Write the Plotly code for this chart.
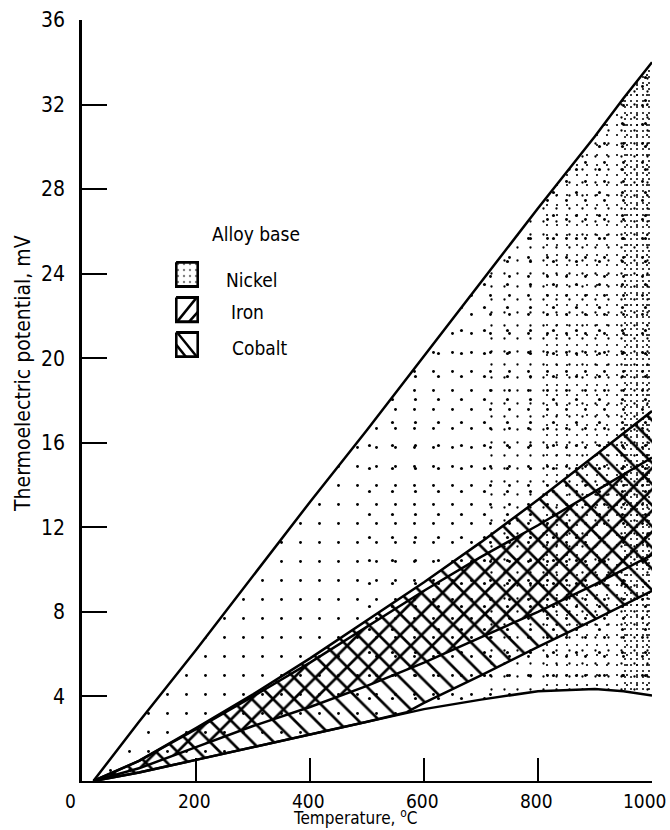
import plotly.graph_objects as go

# ---------------- data ----------------
temps = [20, 100, 200, 300, 400, 500, 600, 700, 800, 900, 950, 1000]
nickel_upper = [0, 2.8, 6.2, 9.7, 13.2, 16.6, 20.1, 23.6, 27.1, 30.5, 32.3, 34.0]
nickel_lower = [0, 0.4, 1.0, 1.6, 2.2, 2.8, 3.4, 3.85, 4.25, 4.35, 4.25, 4.05]

cobalt_t = [20, 100, 200, 300, 400, 500, 600, 700, 800, 900, 1000]
cobalt_upper = [0, 0.95, 2.5, 4.1, 5.8, 7.6, 9.4, 11.3, 13.3, 15.4, 17.5]
cobalt_lower_t = [20, 100, 200, 300, 400, 500, 570, 600, 700, 800, 900, 1000]
cobalt_lower = [0, 0.4, 1.0, 1.6, 2.2, 2.8, 3.26, 3.7, 5.0, 6.35, 7.65, 9.0]

iron_t = [20, 100, 200, 300, 400, 500, 600, 700, 800, 900, 1000]
iron_upper = [0, 0.95, 2.45, 4.0, 5.6, 7.3, 9.0, 10.6, 12.1, 13.7, 15.3]
iron_lower = [0, 0.6, 1.6, 2.6, 3.5, 4.5, 5.6, 6.8, 8.0, 9.3, 10.7]

x_ticks = [200, 400, 600, 800, 1000]
x_ticktext = ["200", "400", "600", "800", "1000"]
y_ticks = [4, 8, 12, 16, 20, 24, 28, 32, 36]
legend_names = ["Nickel", "Iron", "Cobalt"]

FONT = "DejaVu Sans Condensed, Liberation Sans Narrow, Arial Narrow, sans-serif"
CLEAR = "rgba(0,0,0,0)"

fig = go.Figure()


def band(xu, yu, xl, yl, shape, size, solidity, name):
    fig.add_trace(go.Scatter(
        x=list(xu) + list(xl)[::-1],
        y=list(yu) + list(yl)[::-1],
        mode="none", fill="toself", fillcolor=CLEAR,
        fillpattern=dict(shape=shape, size=size, solidity=solidity,
                         fgcolor="black", bgcolor=CLEAR, fgopacity=1),
        hoverinfo="skip", showlegend=False, name=name))


# nickel stipple: sparse at low temperature, growing denser toward 1000 C
band(temps, nickel_upper, temps, nickel_lower, ".", 19, 0.018, "Nickel")
band(temps[5:], nickel_upper[5:], temps[5:], nickel_lower[5:], ".", 23, 0.014, "Nickel")
band(temps[7:], nickel_upper[7:], temps[7:], nickel_lower[7:], ".", 13, 0.025, "Nickel")
band(temps[8:], nickel_upper[8:], temps[8:], nickel_lower[8:], ".", 10, 0.035, "Nickel")
band(temps[10:], nickel_upper[10:], temps[10:], nickel_lower[10:], ".", 6, 0.09, "Nickel")

band(cobalt_t, cobalt_upper, cobalt_lower_t, cobalt_lower, "\\", 15, 0.18, "Cobalt")
band(iron_t, iron_upper, iron_t, iron_lower, "/", 15, 0.18, "Iron")

for xs, ys in [(temps, nickel_upper), (temps, nickel_lower),
               (cobalt_t, cobalt_upper), (cobalt_lower_t, cobalt_lower),
               (iron_t, iron_upper), (iron_t, iron_lower)]:
    fig.add_trace(go.Scatter(x=xs, y=ys, mode="lines",
                             line=dict(color="black", width=2.5),
                             hoverinfo="skip", showlegend=False))

# ---------------- legend swatches (auxiliary axes, 0..1 per box) ----------------
for i in range(3):
    top = -1.45 * i
    bx = [0, 1, 1, 0, 0]
    by = [top, top, top - 1, top - 1, top]
    fig.add_trace(go.Scatter(
        x=bx, y=by, xaxis="x2", yaxis="y2", mode="lines",
        fill="toself" if i == 0 else "none", fillcolor=CLEAR,
        line=dict(color="black", width=3),
        fillpattern=dict(shape=".", size=6, solidity=0.12,
                         fgcolor="black", bgcolor=CLEAR),
        hoverinfo="skip", showlegend=False))
    if i == 1:   # iron: "/" diagonal + corner stroke
        dx = [0.05, 0.95, None, 0.6, 1.0]
        dy = [top - 1, top, None, top - 1, top - 0.6]
    elif i == 2:  # cobalt: "\" diagonal + corner stroke
        dx = [0.05, 0.95, None, 0.0, 0.45]
        dy = [top, top - 1, None, top - 0.5, top - 1]
    else:
        continue
    fig.add_trace(go.Scatter(x=dx, y=dy, xaxis="x2", yaxis="y2", mode="lines",
                             line=dict(color="black", width=2.5),
                             hoverinfo="skip", showlegend=False))

fig.update_layout(
    width=670, height=830,
    margin=dict(l=82, r=18, t=20, b=49, autoexpand=False),
    paper_bgcolor="white", plot_bgcolor="white",
    showlegend=False,
    font=dict(family=FONT, color="black", size=21),
    xaxis=dict(range=[0, 1000], tickvals=x_ticks, showticklabels=False,
               ticks="inside", ticklen=23, tickwidth=2, tickcolor="black",
               showline=True, linecolor="black", linewidth=1.5,
               showgrid=False, zeroline=False, automargin=False),
    yaxis=dict(range=[0, 36], tickvals=y_ticks, ticks="inside",
               ticklen=25, tickwidth=2, tickcolor="black",
               showline=True, linecolor="black", linewidth=2.5,
               showgrid=False, zeroline=False, ticklabelstandoff=10,
               automargin=False, tickfont=dict(size=21)),
    xaxis2=dict(domain=[(175 - 82) / 570, (199 - 82) / 570], range=[-0.05, 1.05],
                visible=False, anchor="y2"),
    yaxis2=dict(domain=[(781 - 358) / 761, (781 - 261) / 761], range=[-3.95, 0.05],
                visible=False, anchor="x2"),
)

# x tick labels (the last one nudged left so it stays inside the page)
for v, t in zip(x_ticks, x_ticktext):
    fig.add_annotation(text=t, x=v, xref="x", yref="paper",
                       y=(781 - 801) / 761, showarrow=False,
                       xanchor="center", yanchor="middle",
                       xshift=-7 if v == x_ticks[-1] else -2,
                       font=dict(size=19))

fig.add_annotation(text="Temperature, <sup>o</sup>C", xref="paper", yref="paper",
                   x=(355 - 82) / 570, y=(781 - 830) / 761, showarrow=False,
                   xanchor="center", yanchor="bottom", font=dict(size=17))
fig.add_annotation(text="Thermoelectric potential, mV", xref="paper", yref="paper",
                   x=(23 - 82) / 570, y=(781 - 374) / 761, showarrow=False,
                   textangle=-90, xanchor="center", yanchor="middle",
                   font=dict(size=21))
fig.add_annotation(text="0", xref="paper", yref="paper",
                   x=(70 - 82) / 570, y=(781 - 801) / 761, showarrow=False,
                   xanchor="center", yanchor="middle", font=dict(size=19))
fig.add_annotation(text="Alloy base", xref="paper", yref="paper",
                   x=(210 - 82) / 570, y=(781 - 234) / 761, showarrow=False,
                   xanchor="left", yanchor="middle", font=dict(size=19))
for i, nm in enumerate(legend_names):
    xs = [224, 229, 230][i]
    yc = [280, 312, 348][i]
    fig.add_annotation(text=nm, xref="paper", yref="paper",
                       x=(xs - 82) / 570, y=(781 - yc) / 761, showarrow=False,
                       xanchor="left", yanchor="middle", font=dict(size=19))

fig.write_html("out.html")
